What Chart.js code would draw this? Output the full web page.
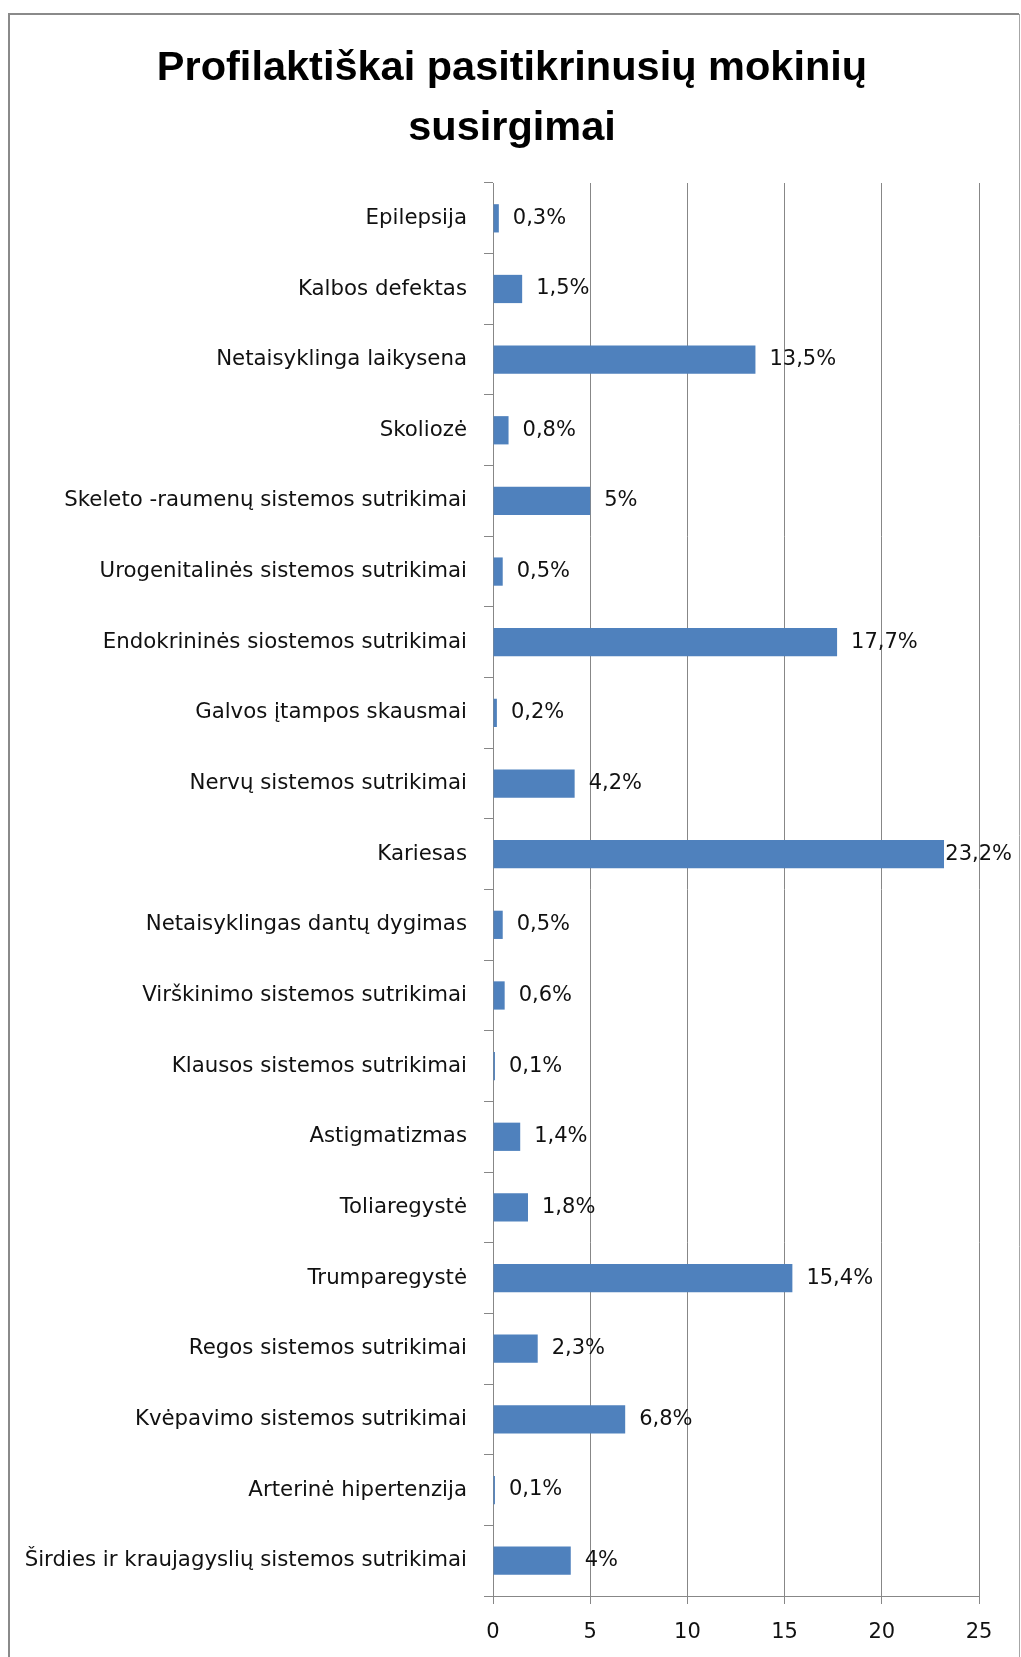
<!DOCTYPE html>
<html>
<head>
<meta charset="utf-8">
<script src="https://cdn.jsdelivr.net/npm/chart.js@4/dist/chart.umd.min.js"></script>
<style>
  body { margin: 0; background: #fff; }
  canvas { display: block; }
</style>
</head>
<body>
<canvas id="chart-bar-susirgimai" width="1021" height="1657"></canvas>
<script>
const titleLines = ["Profilaktiškai pasitikrinusių mokinių", "susirgimai"];

const categories = [
  "Epilepsija",
  "Kalbos defektas",
  "Netaisyklinga laikysena",
  "Skoliozė",
  "Skeleto -raumenų sistemos sutrikimai",
  "Urogenitalinės sistemos sutrikimai",
  "Endokrininės siostemos sutrikimai",
  "Galvos įtampos skausmai",
  "Nervų sistemos sutrikimai",
  "Kariesas",
  "Netaisyklingas dantų dygimas",
  "Virškinimo sistemos sutrikimai",
  "Klausos sistemos sutrikimai",
  "Astigmatizmas",
  "Toliaregystė",
  "Trumparegystė",
  "Regos sistemos sutrikimai",
  "Kvėpavimo sistemos sutrikimai",
  "Arterinė hipertenzija",
  "Širdies ir kraujagyslių sistemos sutrikimai",
];

const percentValues = [
  0.3, 1.5, 13.5, 0.8, 5, 0.5, 17.7, 0.2, 4.2, 23.2,
  0.5, 0.6, 0.1, 1.4, 1.8, 15.4, 2.3, 6.8, 0.1, 4,
];

const xTicks = [0, 5, 10, 15, 20, 25];

const gridColor = "#878787";
const textColor = "#111111";
const labelFont = "DejaVu Sans";

// frame around the whole chart, like the Excel chart area border
const framePlugin = {
  id: "frame",
  beforeDraw(chart) {
    const ctx = chart.ctx;
    ctx.save();
    ctx.fillStyle = "#fff";
    ctx.fillRect(0, 0, chart.width, chart.height);
    ctx.strokeStyle = "#8a8a8a";
    ctx.lineWidth = 2;
    ctx.beginPath();
    ctx.moveTo(9, chart.height);
    ctx.lineTo(9, 14);
    ctx.lineTo(1019, 14);
    ctx.stroke();
    ctx.strokeStyle = "#a6a6a6";
    ctx.lineWidth = 1;
    ctx.beginPath();
    ctx.moveTo(1019.5, 14);
    ctx.lineTo(1019.5, chart.height);
    ctx.stroke();
    ctx.restore();
  },
  // title is centred on the frame, not on the plot
  afterDraw(chart) {
    const ctx = chart.ctx;
    ctx.save();
    ctx.font = "bold 41.5px 'Liberation Sans'";
    ctx.fillStyle = "#000";
    ctx.textAlign = "center";
    ctx.textBaseline = "middle";
    titleLines.forEach((line, i) => {
      ctx.fillText(line, 512, 69 + i * 60);
    });
    ctx.restore();
  },
};

// "0,3%" labels at the end of each bar
const valueLabelPlugin = {
  id: "valueLabels",
  afterDatasetsDraw(chart) {
    const ctx = chart.ctx;
    const meta = chart.getDatasetMeta(0);
    ctx.save();
    ctx.font = "21px '" + labelFont + "'";
    ctx.fillStyle = textColor;
    ctx.textAlign = "left";
    ctx.textBaseline = "middle";
    meta.data.forEach((bar, i) => {
      const text = String(percentValues[i]).replace(".", ",") + "%";
      const w = ctx.measureText(text).width;
      let x = bar.x + 14;
      if (x + w > 1012) x = 1012 - w;
      ctx.fillText(text, x, bar.y);
    });
    ctx.restore();
  },
};

const ctx = document.getElementById("chart-bar-susirgimai").getContext("2d");

new Chart(ctx, {
  type: "bar",
  plugins: [framePlugin, valueLabelPlugin],
  data: {
    labels: categories,
    datasets: [
      {
        data: percentValues,
        backgroundColor: "#4f81bd",
        borderWidth: 0,
        barPercentage: 0.4,
        categoryPercentage: 1,
      },
    ],
  },
  options: {
    indexAxis: "y",
    responsive: false,
    devicePixelRatio: 1,
    animation: false,
    layout: {
      padding: { left: 0, right: 42, top: 183, bottom: 0 },
    },
    plugins: {
      legend: { display: false },
      tooltip: { enabled: false },
      title: { display: false },
    },
    scales: {
      y: {
        afterFit(scale) {
          scale.width = 493;
        },
        grid: {
          display: true,
          offset: true,
          drawOnChartArea: false,
          drawTicks: true,
          tickLength: 9,
          color: gridColor,
        },
        border: { display: true, color: gridColor, width: 1 },
        ticks: {
          padding: 17,
          color: textColor,
          autoSkip: false,
          font: { family: labelFont, size: 21.3 },
        },
      },
      x: {
        min: 0,
        max: 25,
        afterFit(scale) {
          scale.height = 61;
        },
        afterBuildTicks(scale) {
          scale.ticks = xTicks.map((v) => ({ value: v }));
        },
        grid: {
          display: true,
          drawOnChartArea: true,
          drawTicks: true,
          tickLength: 8,
          color: gridColor,
        },
        border: { display: true, color: gridColor, width: 1 },
        ticks: {
          padding: 16,
          color: textColor,
          font: { family: labelFont, size: 21 },
        },
      },
    },
  },
});
</script>
</body>
</html>
